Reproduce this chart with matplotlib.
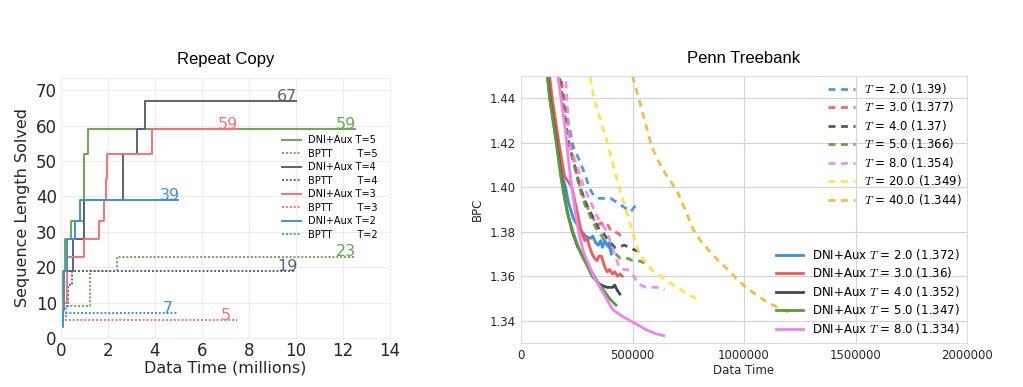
import numpy as np
import matplotlib
matplotlib.use('Agg')
import matplotlib.pyplot as plt

plt.rcParams['mathtext.fontset'] = 'cm'

# ---- Repeat Copy data (x in millions, steps) ----
x_dni5 = [0, 0.1, 0.17, 0.43, 0.96, 1.17, 12.5]
y_dni5 = [5, 19, 28, 33, 52, 59, 59]
x_bptt5 = [0, 0.2, 1.25, 2.37, 12.5]
y_bptt5 = [5, 9, 19, 23, 23]
x_dni4 = [0, 0.15, 0.53, 0.96, 2.64, 3.24, 3.57, 10.0]
y_dni4 = [8, 19, 28, 39, 52, 59, 67, 67]
x_bptt4 = [0, 0.1, 0.3, 0.45, 10.0]
y_bptt4 = [5, 9, 15, 19, 19]
x_dni3 = [0, 0.05, 0.24, 0.96, 1.62, 1.83, 1.9, 1.96, 3.86, 7.5]
y_dni3 = [7, 10, 23, 28, 33, 39, 45, 52, 59, 59]
x_bptt3 = [0, 7.5]
y_bptt3 = [5, 5]
x_dni2 = [0, 0.1, 0.13, 0.24, 0.6, 0.79, 5.0]
y_dni2 = [3, 8, 19, 28, 33, 39, 39]
x_bptt2 = [0, 0.05, 5.0]
y_bptt2 = [4, 7, 7]

# ---- Penn Treebank data (x in thousands) ----
ptb_dni = {
    2.0: ([95, 130, 160, 185, 200, 213, 235, 265, 290, 311, 322, 335, 347, 357, 365, 376, 385, 395, 405],
          [1.47, 1.44, 1.42, 1.405, 1.40, 1.393, 1.386, 1.381, 1.378, 1.377, 1.378, 1.375, 1.374, 1.376, 1.373, 1.376, 1.374, 1.375, 1.370]),
    3.0: ([105, 140, 170, 195, 228, 250, 270, 286, 297, 308, 319, 330, 340, 350, 361, 370, 376, 387, 397, 410, 420, 433, 445, 454],
          [1.47, 1.44, 1.42, 1.405, 1.40, 1.39, 1.38, 1.376, 1.377, 1.373, 1.370, 1.368, 1.367, 1.369, 1.369, 1.366, 1.364, 1.362, 1.363, 1.361, 1.362, 1.360, 1.361, 1.360]),
    4.0: ([100, 130, 160, 180, 205, 230, 255, 283, 305, 328, 345, 361, 385, 411, 420, 430, 443],
          [1.47, 1.44, 1.42, 1.405, 1.39, 1.38, 1.373, 1.368, 1.364, 1.36, 1.357, 1.356, 1.355, 1.355, 1.356, 1.354, 1.352]),
    5.0: ([98, 128, 158, 178, 197, 215, 233, 250, 269, 290, 319, 345, 369, 397, 426],
          [1.47, 1.44, 1.42, 1.405, 1.394, 1.386, 1.38, 1.375, 1.37, 1.366, 1.36, 1.357, 1.354, 1.35, 1.347]),
    8.0: ([135, 165, 200, 215, 228, 245, 262, 283, 305, 326, 354, 383, 411, 454, 490, 526, 560, 583, 610, 640],
          [1.47, 1.45, 1.425, 1.41, 1.40, 1.388, 1.378, 1.37, 1.365, 1.36, 1.355, 1.35, 1.345, 1.342, 1.340, 1.338, 1.336, 1.335, 1.334, 1.3333]),
}
dni_best = {2.0: '1.372', 3.0: '1.36', 4.0: '1.352', 5.0: '1.347', 8.0: '1.334'}

ptb_bptt = {
    2.0: ([150, 180, 210, 235, 260, 290, 305, 327, 350, 375, 402, 432, 462, 492, 515, 522],
          [1.47, 1.445, 1.43, 1.418, 1.4125, 1.405, 1.40, 1.396, 1.395, 1.395, 1.395, 1.393, 1.391, 1.389, 1.392, 1.393]),
    3.0: ([155, 185, 215, 240, 265, 290, 310, 330, 345, 360, 375, 390, 405, 420, 440, 462],
          [1.47, 1.445, 1.425, 1.41, 1.40, 1.393, 1.388, 1.385, 1.383, 1.384, 1.382, 1.383, 1.380, 1.380, 1.379, 1.376]),
    4.0: ([160, 185, 214, 240, 265, 290, 320, 345, 365, 385, 402, 420, 440, 462, 485, 505, 530],
          [1.46, 1.44, 1.42, 1.41, 1.40, 1.393, 1.387, 1.382, 1.38, 1.377, 1.375, 1.373, 1.373, 1.374, 1.373, 1.372, 1.371]),
    5.0: ([158, 183, 212, 238, 262, 287, 315, 340, 362, 385, 405, 425, 445, 462, 480, 500, 525, 555],
          [1.46, 1.44, 1.42, 1.41, 1.40, 1.392, 1.386, 1.381, 1.378, 1.374, 1.372, 1.37, 1.368, 1.368, 1.368, 1.367, 1.367, 1.366]),
    8.0: ([190, 205, 222, 250, 282, 310, 340, 365, 387, 405, 420, 440, 460, 477, 492, 507, 522, 537, 560, 590, 620, 643],
          [1.47, 1.44, 1.417, 1.41, 1.40, 1.394, 1.387, 1.383, 1.38, 1.374, 1.37, 1.364, 1.363, 1.363, 1.361, 1.36, 1.357, 1.356, 1.355, 1.355, 1.355, 1.354]),
    20.0: ([300, 327, 357, 387, 413, 440, 470, 500, 515, 530, 560, 595, 628, 665, 703, 745, 785],
           [1.455, 1.44, 1.43, 1.42, 1.41, 1.40, 1.39, 1.38, 1.375, 1.37, 1.366, 1.362, 1.36, 1.357, 1.355, 1.352, 1.350]),
    40.0: ([500, 533, 560, 585, 615, 645, 675, 704, 740, 772, 805, 839, 885, 928, 965, 1003, 1050, 1093, 1140, 1182, 1205],
           [1.45, 1.438, 1.428, 1.4185, 1.412, 1.4065, 1.402, 1.3974, 1.389, 1.381, 1.376, 1.372, 1.367, 1.363, 1.359, 1.3555, 1.352, 1.349, 1.3465, 1.3445, 1.344]),
}
bptt_best = {2.0: '1.39', 3.0: '1.377', 4.0: '1.37', 5.0: '1.366', 8.0: '1.354', 20.0: '1.349', 40.0: '1.344'}

# colours
lc = {5: '#6aa84f', 4: '#5b6275', 3: '#f57373', 2: '#4090e0'}
rc = {2.0: '#3a8fe0', 3.0: '#f25a5a', 4.0: '#3d4657', 5.0: '#5a9c3a', 8.0: '#ee82ee',
      20.0: '#ffe135', 40.0: '#f5b335'}

fig = plt.figure(figsize=(10.23, 3.87), dpi=100)

# ---------------- left: Repeat Copy ----------------
ax1 = fig.add_axes([0.0596, 0.1266, 0.3216, 0.672])
series = [(5, x_dni5, y_dni5, x_bptt5, y_bptt5),
          (4, x_dni4, y_dni4, x_bptt4, y_bptt4),
          (3, x_dni3, y_dni3, x_bptt3, y_bptt3),
          (2, x_dni2, y_dni2, x_bptt2, y_bptt2)]
for T, xd, yd, xb, yb in series:
    ax1.plot(xd, yd, drawstyle='steps-post', color=lc[T], lw=1.4, label='DNI+Aux T=%d' % T)
    ax1.plot(xb, yb, drawstyle='steps-post', color=lc[T], lw=1.4, ls=(0, (1, 1)),
             label='BPTT        T=%d' % T)
    ax1.text(xd[-1] + 0.05, yd[-1] - 0.8, str(yd[-1]), color=lc[T], fontsize=11.5,
             ha='right', va='bottom')
    ax1.text(xb[-1] + 0.05 - (0.3 if T in (2, 3) else 0), yb[-1] - 0.8, str(yb[-1]),
             color=lc[T], fontsize=11.5, ha='right', va='bottom')

ax1.set_xlim(0, 14)
ax1.set_ylim(0, 73.5)
ax1.set_xticks(range(0, 15, 2))
ax1.set_yticks(range(0, 71, 10))
ax1.grid(True, color='#ececec', lw=0.8)
ax1.set_axisbelow(True)
for s in ax1.spines.values():
    s.set_color('#eeeeee')
ax1.tick_params(length=0, labelsize=12, colors='#262626', pad=3)
ax1.set_xlabel('Data Time (millions)', fontsize=11.5, color='#262626', labelpad=0)
ax1.set_ylabel('Sequence Length Solved', fontsize=11.5, color='#262626', labelpad=4)
ax1.set_title('Repeat Copy', fontsize=12, family='Liberation Sans', pad=10)
ax1.legend(loc='upper right', bbox_to_anchor=(0.975, 0.795), borderaxespad=0,
           frameon=False, fontsize=7, handlelength=2.0, labelspacing=0.36,
           handletextpad=0.7)

# ---------------- right: Penn Treebank ----------------
ax2 = fig.add_axes([0.5093, 0.1137, 0.436, 0.690])
dashed = []
for T, (xs, ys) in ptb_bptt.items():
    ln, = ax2.plot(np.array(xs) * 1000, ys, color=rc[T], lw=2, ls=(0, (2.5, 2)), alpha=0.9,
                   label=r'$T$ = %.1f (%s)' % (T, bptt_best[T]))
    dashed.append(ln)
solid = []
for T, (xs, ys) in ptb_dni.items():
    ln, = ax2.plot(np.array(xs) * 1000, ys, color=rc[T], lw=2,
                   label=r'DNI+Aux $T$ = %.1f (%s)' % (T, dni_best[T]))
    solid.append(ln)

ax2.set_xlim(0, 2000000)
ax2.set_ylim(1.33, 1.45)
ax2.set_xticks([0, 500000, 1000000, 1500000, 2000000])
ax2.set_xticklabels(['0', '500000', '1000000', '1500000', '2000000'])
ax2.set_yticks([1.34, 1.36, 1.38, 1.40, 1.42, 1.44])
ax2.set_yticklabels(['1.34', '1.36', '1.38', '1.40', '1.42', '1.44'])
ax2.grid(True, color='#d3d3d3', lw=0.8)
ax2.set_axisbelow(True)
for s in ax2.spines.values():
    s.set_color('#dddddd')
ax2.tick_params(length=0, labelsize=8.5, colors='#262626', pad=4)
ax2.set_xlabel('Data Time', fontsize=8.5, color='#262626', labelpad=2)
ax2.set_ylabel('BPC', fontsize=8.5, color='#262626', labelpad=4)
ax2.set_title('Penn Treebank', fontsize=12, family='Liberation Sans', pad=9)

leg1 = ax2.legend(handles=dashed, loc='upper right', frameon=False, fontsize=8.5,
                  handlelength=2.3, labelspacing=0.3, borderaxespad=0.0)
ax2.add_artist(leg1)
ax2.legend(handles=solid, loc='lower right', frameon=False, fontsize=8.5,
           handlelength=2.3, labelspacing=0.3, borderaxespad=0.2)

fig.savefig('out.png', dpi=100)
